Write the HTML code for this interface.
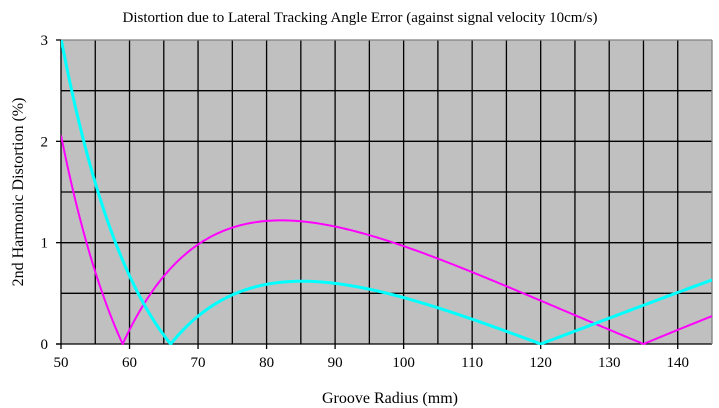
<!DOCTYPE html>
<html><head><style>
body{margin:0;background:#fff;}
svg{display:block;font-family:"Liberation Serif",serif;}
</style></head><body>
<svg id="s" width="719" height="408" xmlns="http://www.w3.org/2000/svg">
<defs><clipPath id="cp"><rect x="61" y="40" width="651" height="305"/></clipPath></defs>
<rect x="61" y="40" width="651" height="304" fill="#c0c0c0"/>
<g id="grid" stroke="#000" stroke-width="1.3"></g>
<line x1="61" y1="40" x2="712" y2="40" stroke="#808080" stroke-width="1.3"/>
<line x1="712" y1="40" x2="712" y2="344" stroke="#808080" stroke-width="1.3"/>
<g id="cv" clip-path="url(#cp)"></g>
<text x="360" y="22" font-size="15" text-anchor="middle">Distortion due to Lateral Tracking Angle Error (against signal velocity 10cm/s)</text>
<text x="390" y="403" font-size="16" text-anchor="middle">Groove Radius (mm)</text>
<text transform="translate(23,192) rotate(-90)" font-size="16" text-anchor="middle">2nd Harmonic Distortion (%)</text>
<g id="lbl" font-size="15"></g>
</svg>
<script>
var ns="http://www.w3.org/2000/svg";
function X(r){return 61+(r-50)*651/95;}
function Y(v){return 344-v*304/3;}
function el(p,t,a){var e=document.createElementNS(ns,t);for(var k in a)e.setAttribute(k,a[k]);p.appendChild(e);return e;}
var g=document.getElementById('grid'),l=document.getElementById('lbl');
for(var r=55;r<145;r+=5)el(g,'line',{x1:X(r),y1:40,x2:X(r),y2:344});
for(var v=0.5;v<3;v+=0.5)el(g,'line',{x1:61,y1:Y(v),x2:712,y2:Y(v)});
el(g,'line',{x1:61,y1:40,x2:61,y2:344});
el(g,'line',{x1:56,y1:344,x2:712,y2:344});
for(var v=0;v<=3;v++){el(g,'line',{x1:56,y1:Y(v),x2:61,y2:Y(v)});var t=el(l,'text',{x:48,y:Y(v)+5,'text-anchor':'end'});t.textContent=v;}
for(var r=50;r<=140;r+=10){el(g,'line',{x1:X(r),y1:344,x2:X(r),y2:349});var t=el(l,'text',{x:X(r),y:367,'text-anchor':'middle'});t.textContent=r;}
function curve(r1,r2,col,w){var d='';for(var r=50;r<=145.001;r+=0.25){var v=6.73*Math.abs((r-r1)*(r2-r))/(r*r);d+=(d?'L':'M')+X(r).toFixed(2)+','+Y(v).toFixed(2);}
el(document.getElementById('cv'),'path',{d:d,fill:'none',stroke:col,'stroke-width':w});}
curve(59,135,'#ff00ff',2);
curve(66,120,'#00ffff',3);
</script>
</body></html>
